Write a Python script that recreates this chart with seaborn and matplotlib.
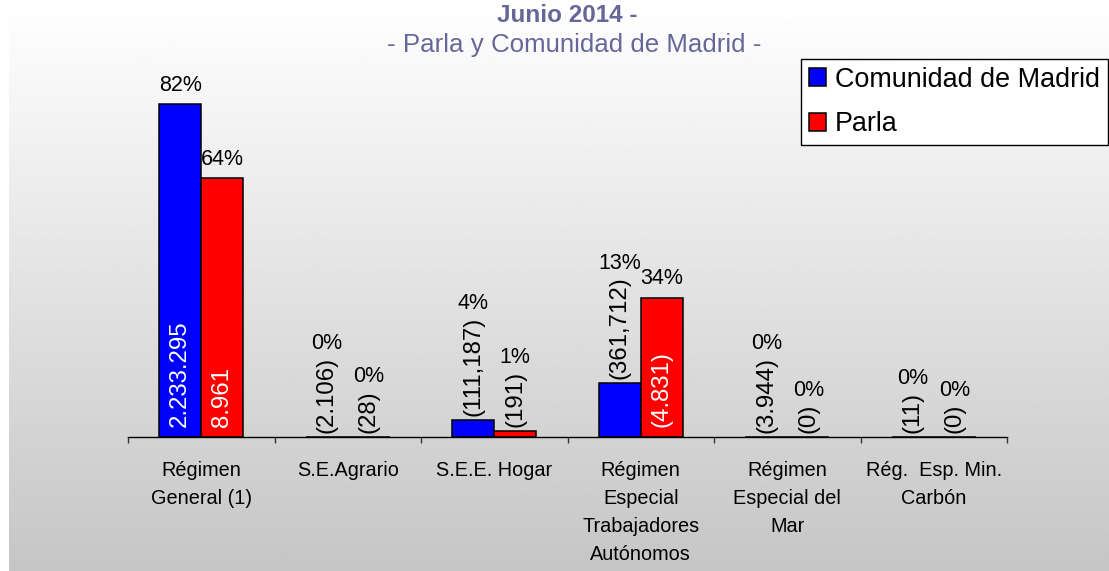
import numpy as np
import pandas as pd
import matplotlib
matplotlib.use("Agg")
import matplotlib.pyplot as plt
import seaborn as sns

# datos
categorias = ["Régimen\nGeneral (1)", "S.E.Agrario", "S.E.E. Hogar",
              "Régimen\nEspecial\nTrabajadores\nAutónomos",
              "Régimen\nEspecial del\nMar", "Rég.  Esp. Min.\nCarbón"]
series = ["Comunidad de Madrid", "Parla"]
pct_madrid = [82.3, 0.0, 4.1, 13.3, 0.0, 0.0]
pct_parla = [64.0, 0.0, 1.4, 34.5, 0.0, 0.0]
afil_madrid = ["2.233.295", "(2.106)", "(111,187)", "(361,712)", "(3.944)", "(11)"]
afil_parla = ["8.961", "(28)", "(191)", "(4.831)", "(0)", "(0)"]
etiq_madrid = ["82%", "0%", "4%", "13%", "0%", "0%"]
etiq_parla = ["64%", "0%", "1%", "34%", "0%", "0%"]
colores = ["#0000ff", "#ff0000"]

df = pd.DataFrame({
    "categoria": categorias * 2,
    "serie": [series[0]] * len(categorias) + [series[1]] * len(categorias),
    "pct": pct_madrid + pct_parla,
})

plt.rcParams["font.family"] = ["Liberation Sans", "DejaVu Sans"]

W, H = 1109, 571
fig = plt.figure(figsize=(W / 100, H / 100), dpi=100)
fig.patch.set_facecolor("white")

# fondo degradado
bg = fig.add_axes([9 / W, 0, 1 - 9 / W, 1], zorder=-1)
grad = np.linspace(1.0, 0.775, 200).reshape(-1, 1)
bg.imshow(grad, aspect="auto", cmap="gray", vmin=0, vmax=1, extent=[0, 1, 0, 1])
bg.axis("off")

ax = fig.add_axes([128 / W, (H - 437) / H, 879 / W, (437 - 60) / H])
ax.set_facecolor("none")

sns.barplot(data=df, x="categoria", y="pct", hue="serie", palette=colores,
            saturation=1, width=0.575, edgecolor="black", linewidth=1.1,
            errorbar=None, ax=ax)

ax.set_xlim(-0.5, len(categorias) - 0.5)
ax.set_ylim(0, 93.3)
ax.set_yticks([])
ax.set_xlabel("")
ax.set_ylabel("")
for s in ["top", "right", "left"]:
    ax.spines[s].set_visible(False)
ax.spines["bottom"].set_color("black")
ax.spines["bottom"].set_linewidth(1)

ax.set_xticks(np.arange(-0.5, len(categorias), 1), minor=True)
ax.tick_params(axis="x", which="minor", length=4, width=1, direction="out", color="#333333")
ax.tick_params(axis="x", which="major", length=0, pad=17, labelsize=14.3)

# leyenda
handles, labels = ax.get_legend_handles_labels()
ax.get_legend().remove()
leg = fig.legend(handles, labels, loc="upper right",
                 bbox_to_anchor=(1107.5 / W, (H - 59) / H), borderaxespad=0,
                 fontsize=19.4, frameon=True, fancybox=False, framealpha=1,
                 handlelength=0.63, handleheight=0.63, handletextpad=0.35,
                 labelspacing=0.7, borderpad=0.28)
leg.get_frame().set_edgecolor("black")
leg.get_frame().set_linewidth(1.0)

# titulos
fig.text(567 / W, 1 - 15 / H, "Junio 2014 -", ha="center", va="center",
         fontsize=17.5, fontweight="bold", color="#666699")
fig.text(574 / W, 1 - 45 / H, "- Parla y Comunidad de Madrid -", ha="center",
         va="center", fontsize=18.6, color="#666699")

# etiquetas de datos
fig.canvas.draw()
for lbl in ax.get_xticklabels():
    lbl.set_linespacing(1.6)
renderer = fig.canvas.get_renderer()
for cont, afil, etiq in zip(ax.containers, [afil_madrid, afil_parla],
                            [etiq_madrid, etiq_parla]):
    for barra, a, e in zip(cont, afil, etiq):
        xc = barra.get_x() + barra.get_width() / 2
        alto = barra.get_height()
        if alto > 20:
            ax.annotate(a, (xc, 0), xytext=(0, 7), textcoords="offset points",
                        rotation=90, ha="center", va="bottom", color="white",
                        fontsize=17.3)
            ax.annotate(e, (xc, alto), xytext=(0, 6), textcoords="offset points",
                        ha="center", va="bottom", fontsize=15.5)
        else:
            t = ax.annotate(a, (xc, alto), xytext=(0, 3), textcoords="offset points",
                            rotation=90, ha="center", va="bottom", color="black",
                            fontsize=17.3)
            bb = t.get_window_extent(renderer)
            ytop = ax.transData.inverted().transform((0, bb.y1))[1]
            ax.annotate(e, (xc, ytop), xytext=(0, 2), textcoords="offset points",
                        ha="center", va="bottom", fontsize=15.5)

fig.savefig("out.png", dpi=100)
